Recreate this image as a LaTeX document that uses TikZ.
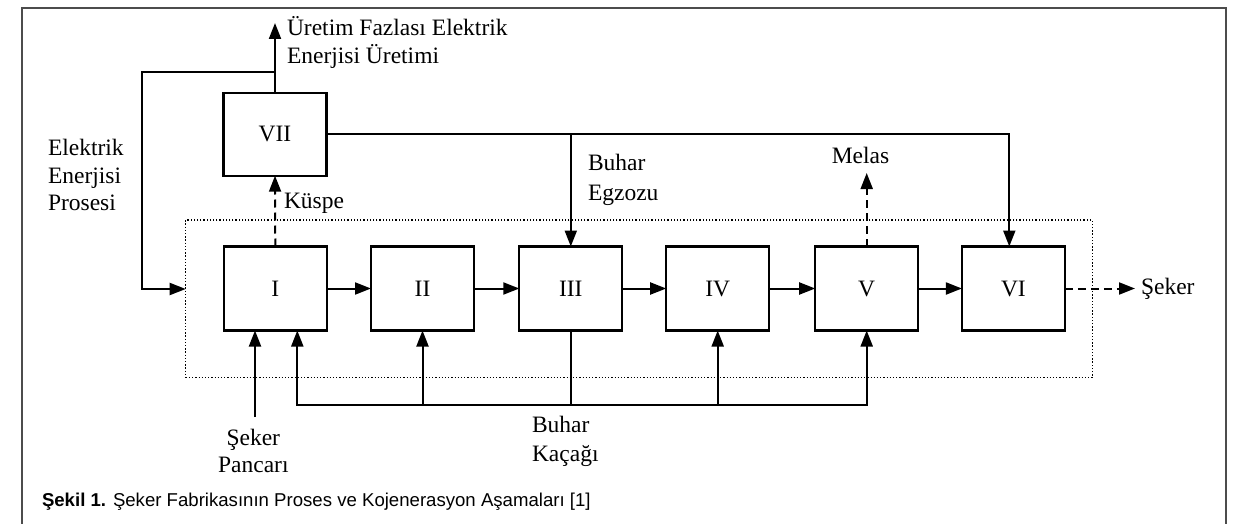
\documentclass[tikz,border=0pt]{standalone}
\usepackage{fontspec}
\setmainfont{Liberation Serif}
\setsansfont{Liberation Sans}
\usetikzlibrary{arrows.meta}
\begin{document}
\begin{tikzpicture}[x=1pt,y=-1pt,
  every node/.style={inner sep=0pt, outer sep=0pt},
  lbl/.style={font=\fontsize{23.5}{28}\selectfont},
  proc/.style={draw, line width=2.3pt, minimum width=103pt, minimum height=84pt, font=\fontsize{23.5}{28}\selectfont},
  flow/.style={line width=2pt, -{Triangle[length=16pt,width=12pt]}},
  plain/.style={line width=2pt},
  dflow/.style={flow, dash pattern=on 8pt off 5pt},
  frame/.style={draw=black!70, line width=2pt},
  dotbox/.style={draw, line width=1.3pt, dash pattern=on 1.3pt off 1.9pt}
]
\useasboundingbox (0,0) rectangle (1236,524);
\draw[frame] (22,524) -- (22,8) -- (1226,8) -- (1226,524);

% group (dotted)
\node[dotbox, minimum width=906.6pt, minimum height=157.7pt] (grp) at (639,298.85) {};

% process boxes
\node[proc, minimum height=83pt] (b7) at (275,134.2) {VII};
\node[proc] (b1) at (275.3,288.5) {I};
\node[proc] (b2) at (422.5,288.5) {II};
\node[proc] (b3) at (570.8,288.5) {III};
\node[proc] (b4) at (717.7,288.5) {IV};
\node[proc] (b5) at (866.7,288.5) {V};
\node[proc] (b6) at (1013.4,288.5) {VI};

% helper coordinates
\coordinate (up) at (275,23);
\coordinate (j1) at (275,72.3);
\coordinate (ein) at (185.7,289);
\coordinate (x6) at (1009.3,134.2);
\coordinate (mel) at (866.7,173);
\coordinate (sek) at (1135,288.5);
\coordinate (bl) at (297.3,405);
\coordinate (br) at (866.7,405);
\coordinate (sp) at (255,417);

% connectors
\draw[flow] (b7.north) -- (up);
\draw[flow] (j1) -| (141.7,289) -- (ein);
\draw[flow] (b7.east) -- (x6) -- (x6 |- b6.north);
\draw[flow] (b3.north |- b7.east) -- (b3.north);
\draw[dflow] (b1.north) -- (b7.south);
\draw[dflow] (b5.north) -- (mel);
\draw[dflow] (b6.east) -- (sek);
\draw[flow] (b1.east) -- (b2.west);
\draw[flow] (b2.east) -- (b3.west);
\draw[flow] (b3.east) -- (b4.west);
\draw[flow] (b4.east) -- (b5.west);
\draw[flow] (b5.east) -- (b6.west);
\draw[plain, line cap=rect] (bl) -- (br);
\draw[flow] (bl) -- (bl |- b1.south);
\draw[flow] (b2.south |- bl) -- (b2.south);
\draw[plain] (b3.south) -- (b3.south |- bl);
\draw[flow] (b4.south |- bl) -- (b4.south);
\draw[flow] (br) -- (b5.south);
\draw[flow] (sp) -- (sp |- b1.south);

% labels
\node[lbl, anchor=base west] (t1a) at (287,35.5) {Üretim Fazlası Elektrik};
\node[lbl, anchor=base west] (t1b) at (287,64) {Enerjisi Üretimi};
\node[lbl, anchor=base west] (t2a) at (48,155.7) {Elektrik};
\node[lbl, anchor=base west] (t2b) at (48,183) {Enerjisi};
\node[lbl, anchor=base west] (t2c) at (48,210.3) {Prosesi};
\node[lbl, anchor=base west] (t3) at (284,208) {Küspe};
\node[lbl, anchor=base west] (t4a) at (588,170) {Buhar};
\node[lbl, anchor=base west] (t4b) at (588,200) {Egzozu};
\node[lbl, anchor=base] (t5) at (860.5,163.3) {Melas};
\node[lbl, anchor=base west] (t6) at (1141,294) {Şeker};
\node[lbl, anchor=base] (t7a) at (253.3,445) {Şeker};
\node[lbl, anchor=base] (t7b) at (253.3,472.7) {Pancarı};
\node[lbl, anchor=base west] (t8a) at (532,432) {Buhar};
\node[lbl, anchor=base west] (t8b) at (532,461.7) {Kaçağı};
\node[anchor=base west, font=\sffamily\fontsize{18.6}{22}\selectfont] (cap) at (42,506) {\textbf{Şekil 1.} Şeker Fabrikasının Proses ve Kojenerasyon Aşamaları [1]};
\end{tikzpicture}
\end{document}
